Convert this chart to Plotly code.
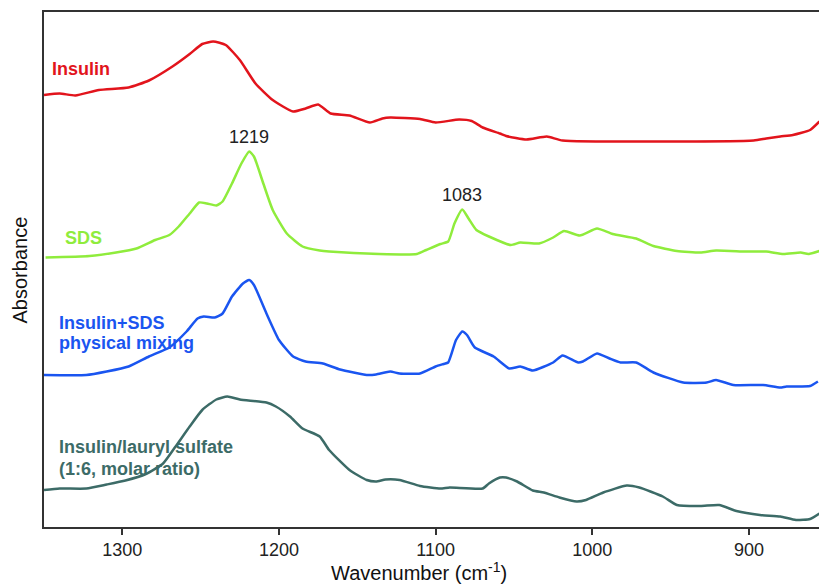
import plotly.graph_objects as go

# Wavenumber (cm-1) and absorbance (arbitrary units, offset spectra)
insulin_wn = [1350, 1340, 1330, 1315, 1296, 1283, 1268, 1257, 1249, 1242, 1234, 1225, 1215, 1204,
              1191, 1183, 1175, 1167, 1155, 1142, 1134, 1129, 1110, 1100, 1085, 1077, 1070, 1059,
              1055, 1042, 1029, 1019, 897, 889, 880, 872, 861, 855]
insulin_abs = [0.864, 0.867, 0.863, 0.874, 0.879, 0.893, 0.921, 0.946, 0.966, 0.971, 0.964, 0.934,
               0.887, 0.854, 0.831, 0.837, 0.845, 0.827, 0.823, 0.809, 0.817, 0.819, 0.816, 0.809,
               0.815, 0.812, 0.799, 0.787, 0.782, 0.775, 0.781, 0.773, 0.773, 0.777, 0.781, 0.784,
               0.794, 0.811]

sds_wn = [1349, 1321, 1304, 1291, 1279, 1270, 1264, 1257, 1251, 1246, 1240, 1236, 1230, 1224, 1219,
          1216, 1210, 1204, 1195, 1185, 1174, 1168, 1136, 1112, 1106, 1097, 1092, 1088, 1083, 1079,
          1074, 1066, 1052, 1046, 1034, 1025, 1018, 1008, 997, 987, 972, 961, 946, 931, 921, 902,
          889, 878, 867, 862, 855]
sds_abs = [0.539, 0.542, 0.549, 0.557, 0.574, 0.584, 0.601, 0.627, 0.649, 0.647, 0.643, 0.651, 0.687,
           0.727, 0.751, 0.741, 0.687, 0.634, 0.587, 0.561, 0.553, 0.551, 0.546, 0.546, 0.554, 0.566,
           0.571, 0.607, 0.635, 0.617, 0.594, 0.581, 0.564, 0.569, 0.567, 0.579, 0.592, 0.583, 0.597,
           0.586, 0.577, 0.562, 0.552, 0.549, 0.553, 0.551, 0.551, 0.546, 0.549, 0.546, 0.552]

mix_wn = [1350, 1323, 1310, 1296, 1283, 1270, 1259, 1252, 1248, 1241, 1236, 1230, 1223, 1219, 1216,
          1208, 1200, 1191, 1183, 1172, 1161, 1144, 1138, 1129, 1123, 1110, 1100, 1095, 1092, 1087,
          1083, 1080, 1075, 1063, 1053, 1046, 1038, 1025, 1019, 1009, 1006, 997, 989, 982, 972, 961,
          942, 927, 921, 910, 891, 880, 876, 861, 856]
mix_abs = [0.304, 0.304, 0.311, 0.321, 0.341, 0.359, 0.391, 0.417, 0.421, 0.419, 0.427, 0.461, 0.487,
           0.494, 0.484, 0.427, 0.374, 0.341, 0.331, 0.327, 0.315, 0.304, 0.305, 0.311, 0.307, 0.307,
           0.321, 0.326, 0.329, 0.374, 0.391, 0.384, 0.359, 0.341, 0.317, 0.321, 0.313, 0.329, 0.343,
           0.329, 0.331, 0.347, 0.337, 0.329, 0.329, 0.309, 0.289, 0.289, 0.294, 0.284, 0.284, 0.279,
           0.281, 0.282, 0.291]

complex_wn = [1350, 1340, 1323, 1310, 1298, 1285, 1274, 1266, 1257, 1249, 1240, 1233, 1225, 1208,
              1202, 1193, 1185, 1174, 1168, 1155, 1144, 1138, 1132, 1123, 1110, 1097, 1091, 1070,
              1066, 1059, 1055, 1048, 1038, 1031, 1021, 1010, 1004, 993, 978, 970, 955, 946, 931,
              919, 908, 893, 880, 870, 861, 855]
complex_abs = [0.074, 0.077, 0.077, 0.085, 0.093, 0.106, 0.127, 0.161, 0.201, 0.234, 0.255, 0.261,
               0.255, 0.249, 0.241, 0.221, 0.197, 0.181, 0.154, 0.114, 0.094, 0.091, 0.095, 0.094,
               0.082, 0.077, 0.079, 0.077, 0.087, 0.099, 0.099, 0.091, 0.073, 0.069, 0.059, 0.051,
               0.054, 0.069, 0.083, 0.079, 0.061, 0.044, 0.042, 0.044, 0.032, 0.024, 0.021, 0.014,
               0.016, 0.027]

series_names = ["Insulin", "SDS", "Insulin+SDS physical mixing", "Insulin/lauryl sulfate (1:6, molar ratio)"]
colors = ["#e2141c", "#8fec3c", "#1a55f0", "#3c6b67"]
peak_labels = ["1219", "1083"]
peak_wn = [1219, 1083]
peak_label_abs = [0.78, 0.664]
tick_vals = [1300, 1200, 1100, 1000, 900]

FONT = "Liberation Sans, Arial, sans-serif"

fig = go.Figure()
for wn, ab, name, col in zip([insulin_wn, sds_wn, mix_wn, complex_wn],
                             [insulin_abs, sds_abs, mix_abs, complex_abs],
                             series_names, colors):
    fig.add_trace(go.Scatter(x=wn, y=ab, mode="lines", name=name,
                             line=dict(color=col, width=2.5, shape="spline", smoothing=0.5),
                             hoverinfo="x+y+name"))

annotations = []
# series labels (x in data units, y in absorbance units)
label_specs = [
    ("Insulin", 1346, 0.9165, colors[0]),
    ("SDS", 1338, 0.578, colors[1]),
    ("Insulin+SDS", 1342, 0.409, colors[2]),
    ("physical mixing", 1342, 0.369, colors[2]),
    ("Insulin/lauryl sulfate", 1342, 0.161, colors[3]),
    ("(1:6, molar ratio)", 1342, 0.117, colors[3]),
]
for txt, xv, yv, col in label_specs:
    annotations.append(dict(text=txt, x=xv, y=yv, xref="x", yref="y", xanchor="left",
                            yanchor="middle", showarrow=False,
                            font=dict(family=FONT, size=18, color=col, weight="bold")))
for txt, xv, yv in zip(peak_labels, peak_wn, peak_label_abs):
    annotations.append(dict(text=txt, x=xv, y=yv, xref="x", yref="y", xanchor="center",
                            yanchor="middle", showarrow=False,
                            font=dict(family=FONT, size=18, color="#222222")))
annotations.append(dict(text="Wavenumber (cm<sup>-1</sup>)", x=0.484, y=-0.087, xref="paper",
                        yref="paper", xanchor="center", yanchor="middle", showarrow=False,
                        font=dict(family=FONT, size=20, color="#111111")))
annotations.append(dict(text="Absorbance", x=-0.031, y=0.5, xref="paper", yref="paper",
                        xanchor="center", yanchor="middle", textangle=-90, showarrow=False,
                        font=dict(family=FONT, size=20, color="#111111")))

fig.update_layout(
    width=819, height=585,
    margin=dict(l=44, r=0, t=12, b=58),
    paper_bgcolor="white", plot_bgcolor="white",
    showlegend=False,
    annotations=annotations,
    font=dict(family=FONT, size=18, color="#222222"),
    xaxis=dict(range=[1350, 855.3], tickvals=tick_vals, ticks="outside", ticklen=6,
               tickwidth=1.5, tickcolor="#333333", showline=True, linecolor="#333333",
               linewidth=1.5, mirror=True, showgrid=False, zeroline=False,
               tickfont=dict(family=FONT, size=18, color="#222222")),
    yaxis=dict(range=[0, 1.03], showticklabels=False, ticks="", showline=True,
               linecolor="#333333", linewidth=1.5, showgrid=False, zeroline=False),
)

fig.write_html("out.html")
